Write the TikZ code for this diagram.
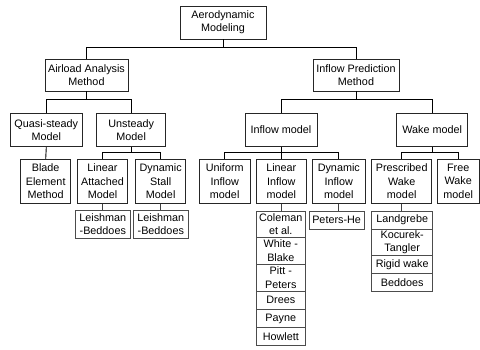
\documentclass[tikz,border=0pt]{standalone}
\usepackage{fontspec}
\setmainfont{Liberation Sans}
\begin{document}
\begin{tikzpicture}[x=1pt,y=-1pt,
  box/.style={draw=black!85,line width=0.9pt,fill=white,inner sep=0pt,align=center,
    font=\fontsize{10.8}{13.3}\selectfont},
  leaf/.style={draw=black!70,line width=0.8pt,fill=white,inner sep=0pt,align=center,
    font=\fontsize{10.8}{13.3}\selectfont},
  conn/.style={draw=black,line width=0.9pt},
  lconn/.style={draw=black!75,line width=0.7pt}]
\useasboundingbox (0,0) rectangle (480,349);
\fill[white] (0,0) rectangle (480,349);
% level 0
\node[box,minimum width=86pt,minimum height=33pt] (root) at (223,22.5) {Aerodynamic\\Modeling};
% level 1
\node[box,minimum width=83pt,minimum height=32pt] (airload) at (86.5,75) {Airload Analysis\\Method};
\node[box,minimum width=86pt,minimum height=32pt] (inpred) at (356,75) {Inflow Prediction\\Method};
% level 2
\node[box,minimum width=72.7pt,minimum height=33.4pt] (quasi) at (46.3,130) {Quasi-steady\\Model};
\node[box,minimum width=69pt,minimum height=33.4pt] (unsteady) at (131.2,130) {Unsteady\\Model};
\node[box,minimum width=72pt,minimum height=33.4pt] (inmodel) at (281,130) {Inflow model};
\node[box,minimum width=71pt,minimum height=33.4pt] (wake) at (432.2,130) {Wake model};
% level 3
\node[box,minimum width=50pt,minimum height=44pt] (blade) at (45.7,181.3) {Blade\\Element\\Method};
\node[box,minimum width=50.4pt,minimum height=44pt] (linatt) at (102.5,181.3) {Linear\\Attached\\Model};
\node[box,minimum width=50pt,minimum height=44pt] (dynstall) at (160.7,181.3) {Dynamic\\Stall\\Model};
\node[box,minimum width=50.7pt,minimum height=44pt] (uniform) at (224.7,181.3) {Uniform\\Inflow\\model};
\node[box,minimum width=50.7pt,minimum height=44pt] (lininf) at (281.3,181.3) {Linear\\Inflow\\model};
\node[box,minimum width=52.3pt,minimum height=44pt] (dyninf) at (338.8,181.3) {Dynamic\\Inflow\\model};
\node[box,minimum width=60pt,minimum height=44pt] (presc) at (401.7,181.3) {Prescribed\\Wake\\model};
\node[box,minimum width=41.7pt,minimum height=44pt] (free) at (458.2,181.3) {Free\\Wake\\model};
% leaves
\node[leaf,minimum width=54.3pt,minimum height=27.3pt] (lb1) at (102.8,224.3) {Leishman\\-Beddoes};
\node[leaf,minimum width=55pt,minimum height=27.3pt] (lb2) at (160.8,224.3) {Leishman\\-Beddoes};
\node[leaf,minimum width=49.7pt,minimum height=26.5pt] (coleman) at (280.8,224.2) {Coleman\\et al.};
\node[leaf,minimum width=49.7pt,minimum height=26.5pt] (white) at (280.8,250.7) {White -\\Blake};
\node[leaf,minimum width=49.7pt,minimum height=27pt] (pitt) at (280.8,277.5) {Pitt -\\Peters};
\node[leaf,minimum width=49.7pt,minimum height=18.5pt] (drees) at (280.8,300.2) {Drees};
\node[leaf,minimum width=49.7pt,minimum height=18pt] (payne) at (280.8,318.5) {Payne};
\node[leaf,minimum width=49.7pt,minimum height=18.2pt] (howlett) at (280.8,336.6) {Howlett};
\node[leaf,minimum width=54.7pt,minimum height=18pt] (peters) at (336.6,220) {Peters-He};
\node[leaf,minimum width=61pt,minimum height=18pt] (landg) at (402.2,220) {Landgrebe};
\node[leaf,minimum width=61pt,minimum height=26.7pt] (kocurek) at (402.2,242.3) {Kocurek-\\Tangler};
\node[leaf,minimum width=61pt,minimum height=17.6pt] (rigid) at (402.2,264.5) {Rigid wake};
\node[leaf,minimum width=61pt,minimum height=17.7pt] (beddoes) at (402.2,282.2) {Beddoes};
% bar levels
\coordinate (b0) at (0,47.5);
\coordinate (b1) at (0,99.5);
\coordinate (b2) at (0,152.3);
% connectors
\draw[conn] (root.south) -- (root.south |- b0);
\draw[conn] (airload.north) -- (airload.north |- b0) -- (inpred.north |- b0) -- (inpred.north);
\draw[conn] (airload.south) -- (airload.south |- b1);
\draw[conn] (quasi.north) -- (quasi.north |- b1) -- (unsteady.north |- b1) -- (unsteady.north);
\draw[conn] (inpred.south) -- (inpred.south |- b1);
\draw[conn] (inmodel.north) -- (inmodel.north |- b1) -- (wake.north |- b1) -- (wake.north);
\draw[conn] (quasi.south) -- (blade.north);
\draw[conn] (unsteady.south) -- (unsteady.south |- b2);
\draw[conn] (linatt.north) -- (linatt.north |- b2) -- (dynstall.north |- b2) -- (dynstall.north);
\draw[conn] (inmodel.south) -- (inmodel.south |- b2);
\draw[conn] (uniform.north) -- (uniform.north |- b2) -- (dyninf.north |- b2) -- (dyninf.north);
\draw[conn] (lininf.north) -- (lininf.north |- b2);
\draw[conn] (wake.south) -- (wake.south |- b2);
\draw[conn] (presc.north) -- (presc.north |- b2) -- (free.north |- b2) -- (free.north);
\draw[lconn] (linatt.south) -- (linatt.south |- lb1.north);
\draw[lconn] (dynstall.south) -- (dynstall.south |- lb2.north);
\draw[lconn] (lininf.south) -- (lininf.south |- coleman.north);
\draw[lconn] (dyninf.south) -- (dyninf.south |- peters.north);
\draw[lconn] (presc.south) -- (presc.south |- landg.north);
\end{tikzpicture}
\end{document}
